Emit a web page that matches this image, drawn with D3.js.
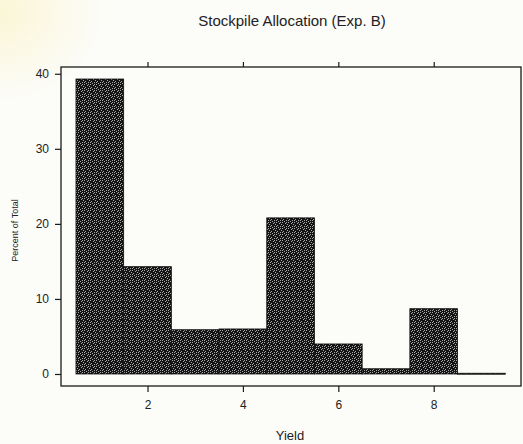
<!DOCTYPE html>
<html>
<head>
<meta charset="utf-8">
<script src="https://cdn.jsdelivr.net/npm/d3@7"></script>
<style>
  html, body { margin: 0; padding: 0; background: #fcfcf9; }
  svg { display: block; }
  text { font-family: "Liberation Sans", Arial, sans-serif; fill: #222; }
</style>
</head>
<body>
<svg id="chart" width="523" height="444"></svg>
<script>
// Histogram bins (midpoints) and percent of total in each bin
const binMids = [1, 2, 3, 4, 5, 6, 7, 8, 9];
const percents = [39.3, 14.3, 5.9, 6.0, 20.8, 4.0, 0.7, 8.7, 0.1];
const xTicks = [2, 4, 6, 8];
const yTicks = [0, 10, 20, 30, 40];
const binWidth = 1;

const svg = d3.select("#chart");
const W = 523, H = 444;
const box = { left: 61, right: 521, top: 67, bottom: 386 };

// faint warm tint in the upper-left corner of the page
const defs = svg.append("defs");
const rg = defs.append("radialGradient").attr("id", "tint")
  .attr("cx", 0).attr("cy", 0.03).attr("r", 0.2);
rg.append("stop").attr("offset", "0%").attr("stop-color", "#fbf6d6");
rg.append("stop").attr("offset", "100%").attr("stop-color", "#fcfcf9");
svg.append("rect").attr("width", W).attr("height", H).attr("fill", "url(#tint)");

// stippled dark fill for the bars
const pat = defs.append("pattern").attr("id", "stipple")
  .attr("patternUnits", "userSpaceOnUse").attr("width", 6).attr("height", 6);
pat.append("rect").attr("width", 6).attr("height", 6).attr("fill", "#141414");
const dots = [[0,0],[3,1],[1,3],[4,4],[5,2],[2,5],[0,4],[4,0]];
pat.selectAll("rect.d").data(dots).join("rect").attr("class", "d")
  .attr("x", d => d[0]).attr("y", d => d[1]).attr("width", 1).attr("height", 1)
  .attr("fill", "#a8a8a8");

const x = d3.scaleLinear().domain([0.186, 9.83]).range([box.left, box.right]);
const y = d3.scaleLinear().domain([-1.6, 40.9]).range([box.bottom, box.top]);

// bars
svg.append("g").selectAll("rect").data(binMids).join("rect")
  .attr("x", (d) => x(d - binWidth / 2))
  .attr("width", (d) => x(d + binWidth / 2) - x(d - binWidth / 2))
  .attr("y", (d, i) => y(percents[i]))
  .attr("height", (d, i) => Math.max(1, y(0) - y(percents[i])))
  .attr("fill", "url(#stipple)")
  .attr("stroke", "#111").attr("stroke-width", 0.8);

// frame
svg.append("rect")
  .attr("x", box.left).attr("y", box.top)
  .attr("width", box.right - box.left).attr("height", box.bottom - box.top)
  .attr("fill", "none").attr("stroke", "#1a1a1a").attr("stroke-width", 1.3);

// axes
const fontSize = "12px";
const bottomAxis = svg.append("g").attr("transform", `translate(0,${box.bottom})`)
  .call(d3.axisBottom(x).tickValues(xTicks).tickSize(6).tickPadding(8));
const topAxis = svg.append("g").attr("transform", `translate(0,${box.top})`)
  .call(d3.axisTop(x).tickValues(xTicks).tickSize(5).tickFormat(""));
const leftAxis = svg.append("g").attr("transform", `translate(${box.left},0)`)
  .call(d3.axisLeft(y).tickValues(yTicks).tickSize(6).tickPadding(6));
[bottomAxis, topAxis, leftAxis].forEach(g => {
  g.select(".domain").remove();
  g.selectAll("line").attr("stroke", "#1a1a1a").attr("stroke-width", 1.2);
  g.selectAll("text").attr("font-family", "Liberation Sans, Arial, sans-serif")
    .attr("font-size", fontSize).attr("fill", "#222");
});

// titles
svg.append("text").attr("x", 292).attr("y", 26).attr("text-anchor", "middle")
  .attr("font-size", "15px").text("Stockpile Allocation (Exp. B)");
svg.append("text").attr("x", 290).attr("y", 440).attr("text-anchor", "middle")
  .attr("font-size", "13px").text("Yield");
svg.append("text")
  .attr("transform", `translate(18,${(box.top + box.bottom) / 2 + 4}) rotate(-90)`)
  .attr("text-anchor", "middle").attr("font-size", "9px").text("Percent of Total");
</script>
</body>
</html>
